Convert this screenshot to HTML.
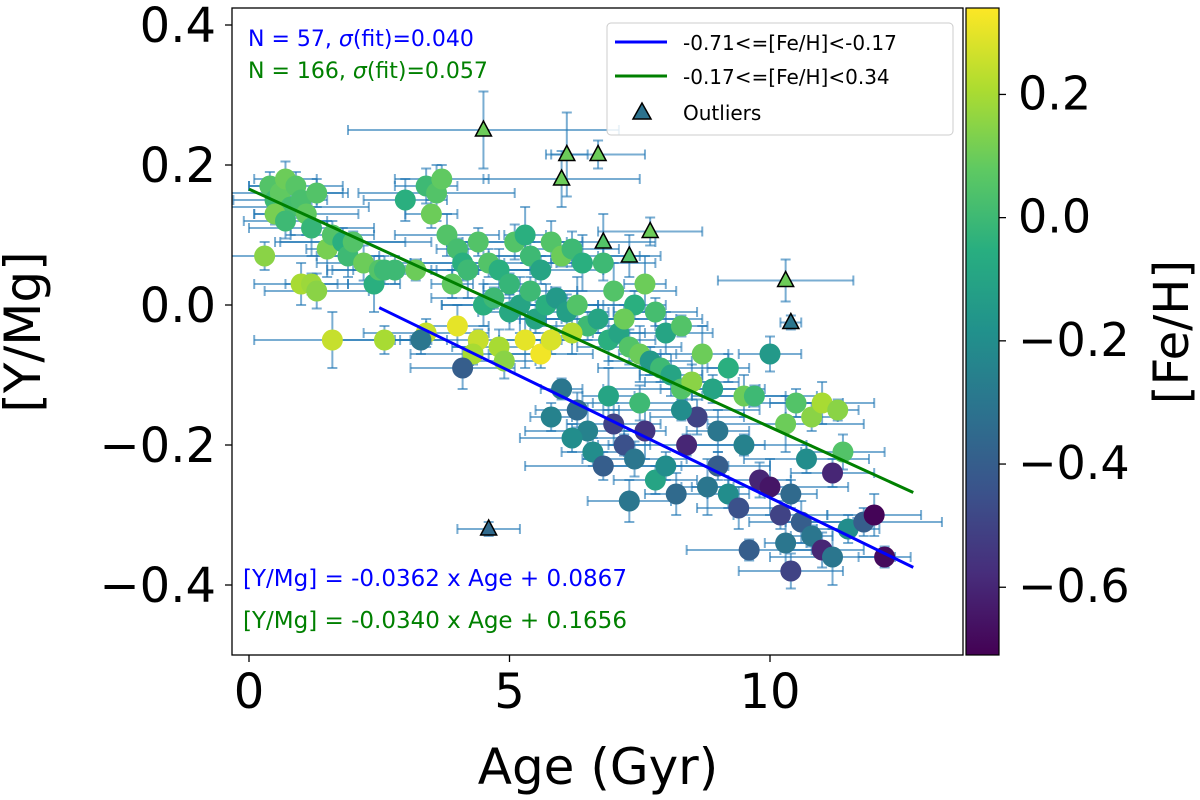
<!DOCTYPE html>
<html><head><meta charset="utf-8"><style>
body{margin:0;background:#fff;}
svg{display:block;font-family:"DejaVu Sans","Liberation Sans",sans-serif;}
</style></head><body>
<svg id="chart" width="1200" height="800" viewBox="0 0 1200 800" xmlns="http://www.w3.org/2000/svg">
<defs>
<linearGradient id="vir" x1="0" y1="1" x2="0" y2="0">
<stop offset="0" stop-color="#440154"/><stop offset="0.125" stop-color="#472d7b"/><stop offset="0.25" stop-color="#3b528b"/><stop offset="0.375" stop-color="#2c728e"/><stop offset="0.5" stop-color="#21918c"/><stop offset="0.625" stop-color="#28ae80"/><stop offset="0.75" stop-color="#5ec962"/><stop offset="0.875" stop-color="#addc30"/><stop offset="1" stop-color="#fde725"/>
</linearGradient>
<clipPath id="pc"><rect x="232" y="8" width="731" height="647"/></clipPath>
</defs>
<g id="errs" clip-path="url(#pc)"></g>
<g id="pts" clip-path="url(#pc)"></g>
<g id="fits"></g>
<g id="outl"></g>
<rect x="232" y="8" width="731" height="647" fill="none" stroke="#000" stroke-width="1.3"/>
<g id="axes"></g>
<text x="598" y="784" font-size="50" text-anchor="middle">Age (Gyr)</text>
<text transform="translate(40,332) rotate(-90)" font-size="50" text-anchor="middle">[Y/Mg]</text>
<text x="248" y="46" font-size="22" fill="#0000ff">N = 57, <tspan font-style="italic">σ</tspan>(fit)=0.040</text>
<text x="248" y="78" font-size="22" fill="#008000">N = 166, <tspan font-style="italic">σ</tspan>(fit)=0.057</text>
<text x="243" y="586" font-size="23" fill="#0000ff">[Y/Mg] = -0.0362 x Age + 0.0867</text>
<text x="243" y="628" font-size="23" fill="#008000">[Y/Mg] = -0.0340 x Age + 0.1656</text>
<g>
<rect x="607" y="23" width="346" height="112" rx="4" fill="#fff" fill-opacity="0.85" stroke="#ccc"/>
<line x1="615" y1="42" x2="667" y2="42" stroke="#0000ff" stroke-width="3"/>
<text x="683" y="50" font-size="20">-0.71&lt;=[Fe/H]&lt;-0.17</text>
<line x1="615" y1="76" x2="667" y2="76" stroke="#008000" stroke-width="3"/>
<text x="683" y="84" font-size="20">-0.17&lt;=[Fe/H]&lt;0.34</text>
<polygon points="642,103 633,119 651,119" fill="#2c728e" stroke="#000" stroke-width="1.5"/>
<text x="683" y="120" font-size="20">Outliers</text>
</g>
<rect x="966" y="8" width="33" height="647" fill="url(#vir)" stroke="#000" stroke-width="1.2"/>
<g id="cbticks"></g>
<text transform="translate(1188,332) rotate(-90)" font-size="48" text-anchor="middle">[Fe/H]</text>
</svg>
<script>
const ages=[0.4,0.5,0.6,0.7,0.8,0.9,1.0,1.1,0.5,0.7,1.2,1.3,0.3,1.0,1.2,1.3,1.5,1.6,1.8,1.9,2.0,2.2,2.4,2.5,2.8,3.0,3.2,3.4,3.6,3.7,3.5,3.8,4.0,4.1,4.2,4.4,4.6,4.8,5.0,5.1,5.3,5.4,5.6,5.8,6.0,6.2,6.4,2.6,3.9,4.5,
4.7,5.0,5.2,5.4,5.5,5.7,5.9,6.1,6.3,6.5,6.7,6.9,7.1,7.3,7.5,7.7,7.9,8.1,8.3,8.5,8.7,8.9,9.2,9.5,9.7,10.0,10.3,10.5,10.8,11.0,11.3,11.4,7.0,7.4,7.2,8.0,8.3,6.8,7.6,7.8,
3.4,4.0,4.4,4.8,5.3,5.6,5.8,6.2,4.3,4.9,1.6,2.6,3.3,4.1,
6.0,6.3,6.5,6.6,6.8,7.0,7.2,7.4,7.6,7.8,8.0,8.2,8.4,8.6,8.8,9.0,9.2,9.4,9.5,9.8,10.0,10.2,10.4,10.6,10.8,11.0,11.2,11.5,11.8,12.0,12.2,10.4,10.3,11.2,10.7,9.0,8.3,7.5,6.9,6.2,5.8,7.3,9.6];
const ymg=[0.17,0.15,0.16,0.18,0.14,0.17,0.15,0.13,0.13,0.12,0.11,0.16,0.07,0.03,0.03,0.02,0.08,0.10,0.09,0.07,0.09,0.06,0.03,0.05,0.05,0.15,0.05,0.17,0.16,0.18,0.13,0.10,0.08,0.06,0.05,0.09,0.06,0.05,0.03,0.09,0.10,0.07,0.05,0.09,0.07,0.08,0.06,0.05,0.03,0.0,
0.01,-0.01,0.0,0.02,-0.02,0.0,0.01,-0.01,0.0,-0.03,-0.02,-0.05,-0.04,-0.06,-0.07,-0.08,-0.09,-0.1,-0.12,-0.11,-0.07,-0.12,-0.09,-0.13,-0.13,-0.07,-0.17,-0.14,-0.16,-0.14,-0.15,-0.21,0.02,0.0,-0.02,-0.04,-0.03,0.06,0.03,-0.01,
-0.04,-0.03,-0.05,-0.06,-0.05,-0.07,-0.05,-0.04,-0.07,-0.08,-0.05,-0.05,-0.05,-0.09,
-0.12,-0.15,-0.18,-0.21,-0.23,-0.17,-0.20,-0.22,-0.18,-0.25,-0.23,-0.27,-0.2,-0.16,-0.26,-0.23,-0.27,-0.29,-0.2,-0.25,-0.26,-0.3,-0.27,-0.31,-0.33,-0.35,-0.36,-0.32,-0.31,-0.3,-0.36,-0.38,-0.34,-0.24,-0.22,-0.18,-0.15,-0.14,-0.13,-0.19,-0.16,-0.28,-0.35];
const feh=[0.05,0.0,0.08,0.1,0.02,0.06,0.03,0.08,0.12,0.0,-0.02,0.05,0.15,0.2,0.18,0.15,0.12,0.05,-0.05,0.0,0.05,0.1,-0.05,0.05,0.0,-0.05,0.1,0.0,0.05,0.08,0.1,0.05,0.02,-0.05,0.0,0.05,0.05,-0.05,-0.02,0.05,-0.05,0.0,-0.1,0.05,0.1,0.0,-0.05,0.0,0.08,-0.05,
0.0,-0.08,-0.1,0.0,-0.1,-0.05,-0.15,-0.12,0.05,0.0,-0.1,-0.05,-0.1,0.05,0.1,-0.15,0.0,-0.1,0.05,0.15,0.1,-0.1,-0.05,0.1,0.0,-0.15,0.1,0.05,0.15,0.2,0.15,0.05,0.05,-0.05,0.1,-0.1,0.05,0.0,0.1,0.02,
0.25,0.3,0.25,0.2,0.3,0.32,0.28,0.22,0.2,0.15,0.25,0.2,-0.3,-0.4,
-0.3,-0.35,-0.25,-0.2,-0.4,-0.5,-0.45,-0.3,-0.55,-0.1,-0.2,-0.35,-0.6,-0.5,-0.3,-0.4,-0.2,-0.45,-0.25,-0.6,-0.65,-0.5,-0.35,-0.4,-0.3,-0.6,-0.3,-0.2,-0.4,-0.7,-0.68,-0.5,-0.3,-0.6,-0.2,-0.3,-0.2,0.0,-0.1,-0.2,-0.25,-0.3,-0.4];
const xerrList=[0.4,0.8,1.2,0.6,1.5,0.9,0.5,1.0];
const yerrList=[0.02,0.03,0.015,0.025,0.04,0.02];
const outAge=[4.5,6.0,6.1,6.7,6.8,7.3,7.7,10.3,10.4,4.6];
const outY=[0.25,0.18,0.215,0.215,0.09,0.07,0.105,0.035,-0.025,-0.32];
const outFeh=[0.1,0.1,0.1,0.1,0.05,0.05,0.1,0.1,-0.3,-0.35];
const outXerr=[2.6,1.5,0.4,0.9,1.0,0.6,1.0,1.3,0.2,0.6];
const outYerr=[0.055,0.04,0.06,0.02,0.04,0.03,0.02,0.03,0.01,0.01];
const blueFit=[-0.0362,0.0867,2.5,12.75];
const greenFit=[-0.0340,0.1656,0,12.75];
const xTicks=[0,5,10];
const yTicks=[0.4,0.2,0.0,-0.2,-0.4];
const cTicks=[0.2,0.0,-0.2,-0.4,-0.6];

const NS="http://www.w3.org/2000/svg";
const X=a=>249+a*52.1;
const Y=v=>305-v*700;
const C=f=>655-(f+0.71)*616;
const stops=[[68,1,84],[71,45,123],[59,82,139],[44,114,142],[33,145,140],[40,174,128],[94,201,98],[173,220,48],[253,231,37]];
function vir(f){let t=(f+0.71)/1.05;t=Math.max(0,Math.min(1,t))*8;const i=Math.min(7,Math.floor(t)),u=t-i;const a=stops[i],b=stops[i+1];return `rgb(${a.map((v,k)=>Math.round(v+(b[k]-v)*u)).join(',')})`;}
function mk(tag,attrs,parent){const e=document.createElementNS(NS,tag);for(const k in attrs)e.setAttribute(k,attrs[k]);parent.appendChild(e);return e;}
const fmt=v=>(v<0?'\u2212':'')+Math.abs(v).toFixed(1);
const errs=document.getElementById('errs'),pts=document.getElementById('pts');
function errbar(x,y,xe,ye,nm){
  const g=mk('g',{stroke:'#1f77b4','stroke-opacity':0.6,'stroke-width':2},errs);
  
  
  const x1=X(x-xe),x2=X(x+xe),y1=Y(y+ye),y2=Y(y-ye),px=X(x),py=Y(y);
  mk('line',{x1:x1,y1:py,x2:x2,y2:py},g);mk('line',{x1:px,y1:y1,x2:px,y2:y2},g);
  mk('line',{x1:x1,y1:py-5,x2:x1,y2:py+5},g);mk('line',{x1:x2,y1:py-5,x2:x2,y2:py+5},g);
  mk('line',{x1:px-5,y1:y1,x2:px+5,y2:y1},g);mk('line',{x1:px-5,y1:y2,x2:px+5,y2:y2},g);
}
ages.forEach((a,i)=>errbar(a,ymg[i],xerrList[i%xerrList.length],yerrList[i%yerrList.length],'error-bar'));
outAge.forEach((a,i)=>errbar(a,outY[i],outXerr[i],outYerr[i],'outlier-error-bar'));
ages.forEach((a,i)=>{
  const c=mk('circle',{cx:X(a),cy:Y(ymg[i]),r:10.5,fill:vir(feh[i])},pts);
  
  
});
const fits=document.getElementById('fits');
[[blueFit,'#0000ff','fit-line-metal-poor'],[greenFit,'#008000','fit-line-metal-rich']].forEach(([f,col,nm])=>{
  const l=mk('line',{x1:X(f[2]),y1:Y(f[0]*f[2]+f[1]),x2:X(f[3]),y2:Y(f[0]*f[3]+f[1]),stroke:col,'stroke-width':3},fits);
  
  
});
const outl=document.getElementById('outl');
outAge.forEach((a,i)=>{
  const x=X(a),y=Y(outY[i]);
  const p=mk('polygon',{points:`${x},${y-9} ${x-8},${y+6} ${x+8},${y+6}`,fill:vir(outFeh[i]),stroke:'#000','stroke-width':1.5},outl);
  
  
});
const axes=document.getElementById('axes');
xTicks.forEach(t=>{
  const l=mk('line',{x1:X(t),y1:655,x2:X(t),y2:662,stroke:'#000','stroke-width':1.3},axes);
  
  
  const tx=mk('text',{x:X(t),y:708,'font-size':48,'text-anchor':'middle'},axes);tx.textContent=t;
  
  
});
yTicks.forEach(t=>{
  const l=mk('line',{x1:225,y1:Y(t),x2:232,y2:Y(t),stroke:'#000','stroke-width':1.3},axes);
  
  
  const tx=mk('text',{x:216,y:Y(t)+17,'font-size':48,'text-anchor':'end'},axes);tx.textContent=fmt(t);
  
  
});
const cb=document.getElementById('cbticks');
cTicks.forEach(t=>{
  const l=mk('line',{x1:999,y1:C(t),x2:1006,y2:C(t),stroke:'#000','stroke-width':1.3},cb);
  
  
  const tx=mk('text',{x:1018,y:C(t)+15,'font-size':46},cb);tx.textContent=fmt(t);
  
  
});
</script>
</body></html>
